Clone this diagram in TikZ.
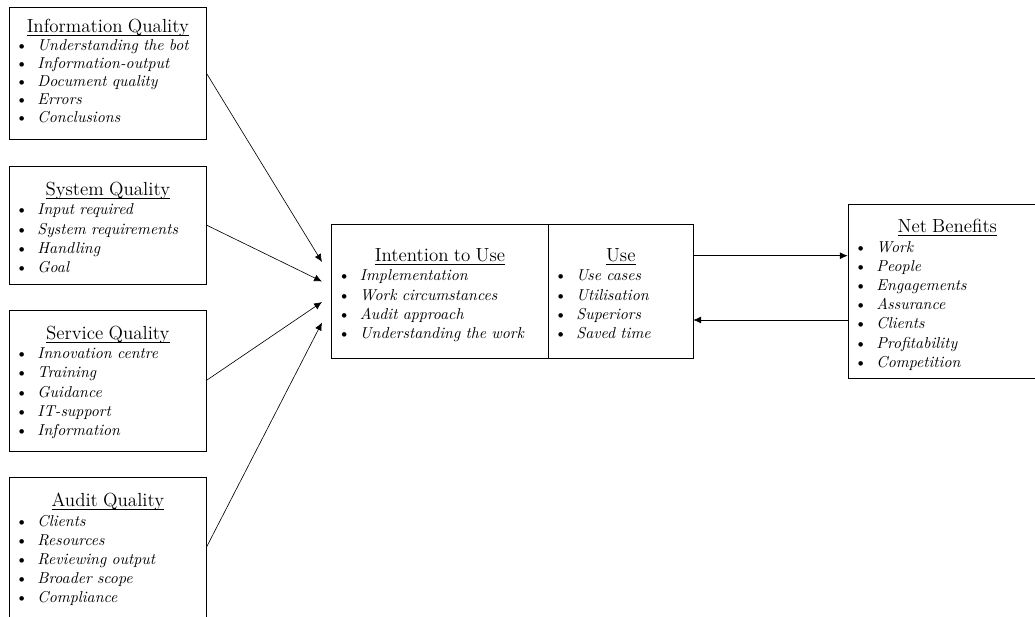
\documentclass[tikz,border=0pt]{standalone}
\usetikzlibrary{arrows.meta,fit}

% heading rule sits just under the baseline
\newcommand\headrule[1]{\setbox0\hbox{#1}\rlap{\rule[-1.85pt]{\wd0}{0.4pt}}\box0}
% centred, underlined panel heading
\newcommand\heading[1]{\makebox[\hsize][c]{\large\headrule{#1}}}
% one bulleted entry of a panel
\newcommand\entry[1]{\\\hspace*{4pt}\makebox[13.8pt][l]{\textbullet}\textit{#1}}

\tikzset{
  px/.style={x=0.63291pt,y=-0.63291pt},
  panel/.style={draw=black, line width=0.4pt, inner sep=0pt},
  body/.style={anchor=north west, inner sep=0pt, align=left,
    font=\fontsize{10}{#1}\selectfont},
  body/.default=12.15pt,
  flow/.style={-{Latex[length=5pt,width=4.4pt]}, line width=0.4pt},
}

\begin{document}
\begin{tikzpicture}[px]
\useasboundingbox (0,0) rectangle (1035,617);
\clip (0,0) rectangle (1035,617);

% quality dimensions
\node[panel, fit={(9,7) (206,139)}] (info) {};
\node[body=11.46pt, text width=124.68pt] (infotxt) at (9,18.8) {%
  \heading{Information Quality}%
  \entry{Understanding the bot}\entry{Information-output}\entry{Document quality}%
  \entry{Errors}\entry{Conclusions}};

\node[panel, fit={(9,166) (206,284)}] (sys) {};
\node[body, text width=124.68pt] (systxt) at (9,182) {%
  \heading{System Quality}%
  \entry{Input required}\entry{System requirements}\entry{Handling}\entry{Goal}};

\node[panel, fit={(9,310) (206,451)}] (serv) {};
\node[body, text width=124.68pt] (servtxt) at (9,325.8) {%
  \heading{Service Quality}%
  \entry{Innovation centre}\entry{Training}\entry{Guidance}%
  \entry{IT-support}\entry{Information}};

\node[panel, fit={(9,477) (206,618)}] (audit) {};
\node[body, text width=124.68pt] (audittxt) at (9,493.1) {%
  \heading{Audit Quality}%
  \entry{Clients}\entry{Resources}\entry{Reviewing output}%
  \entry{Broader scope}\entry{Compliance}};

% intention to use / use
\node[panel, fit={(331.5,224) (548,358)}] (intent) {};
\node[body, text width=137.03pt] (intenttxt) at (331.5,248.5) {%
  \heading{Intention to Use}%
  \entry{Implementation}\entry{Work circumstances}\entry{Audit approach}%
  \entry{Understanding the work}};

\node[panel, fit={(548,224) (693,358)}] (use) {};
\node[body, text width=91.77pt] (usetxt) at (548,248.5) {%
  \heading{Use}%
  \entry{Use cases}\entry{Utilisation}\entry{Superiors}\entry{Saved time}};

% net benefits
\node[panel, fit={(848,204) (1046,378)}] (net) {};
\node[body, text width=125.32pt] (nettxt) at (848,219.3) {%
  \heading{Net Benefits}%
  \entry{Work}\entry{People}\entry{Engagements}\entry{Assurance}%
  \entry{Clients}\entry{Profitability}\entry{Competition}};

% arrow ends in front of the intention panel
\coordinate (in1) at (322,262);
\coordinate (in2) at (322,281.5);
\coordinate (in3) at (322,302);
\coordinate (in4) at (322,322.5);

\draw[flow] (info.east)  -- (in1);
\draw[flow] (sys.east)   -- (in2);
\draw[flow] (serv.east)  -- (in3);
\draw[flow] (audit.east) -- (in4);

\draw[flow] ([shift={(0,-35.3)}]use.east) -- ([shift={(0,-35.3)}]net.west);
\draw[flow] ([shift={(0,29)}]net.west) -- ([shift={(0,29)}]use.east);
\end{tikzpicture}
\end{document}
